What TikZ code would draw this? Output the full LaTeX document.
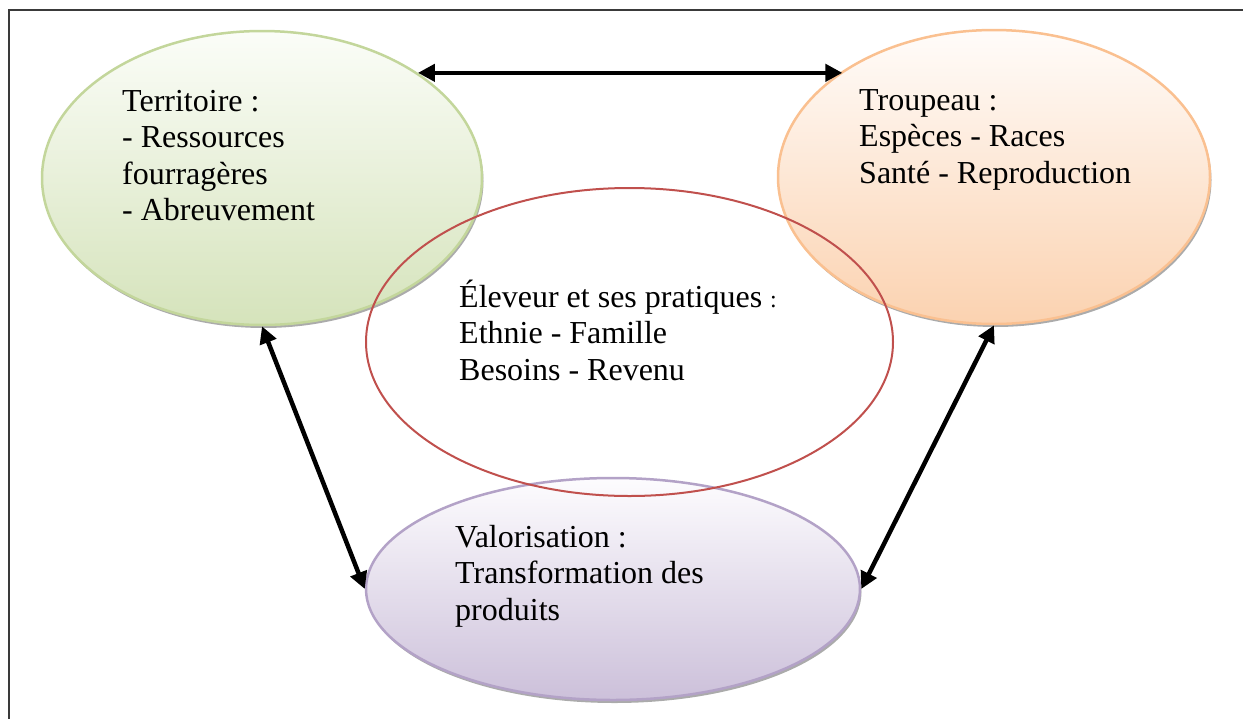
\documentclass[tikz,border=0pt]{standalone}
\usepackage{fontspec}
\setmainfont{Liberation Serif}
\usetikzlibrary{shapes.geometric,shadows,arrows.meta}
\definecolor{grLine}{HTML}{C3D69B}
\definecolor{grTop}{HTML}{FBFDF8}
\definecolor{grBot}{HTML}{D5E3BB}
\definecolor{orLine}{HTML}{FAC090}
\definecolor{orTop}{HTML}{FFFCFA}
\definecolor{orBot}{HTML}{FBD2B0}
\definecolor{puLine}{HTML}{B3A2C7}
\definecolor{puTop}{HTML}{FDFCFE}
\definecolor{puBot}{HTML}{CCC0DA}
\definecolor{rdLine}{HTML}{C0504D}
\definecolor{frameCol}{HTML}{3A3A3A}
\begin{document}
\begin{tikzpicture}[x=1pt,y=-1pt,
  blob/.style={ellipse, inner sep=0pt, line width=2.5pt,
    drop shadow={shadow xshift=1.5pt, shadow yshift=-3pt, fill=black!55, opacity=0.6}},
  txt/.style={anchor=north west, inner sep=0pt, align=left,
    font=\fontsize{32}{36.5}\selectfont},
  link/.style={line width=4.5pt, {Triangle[length=17pt,width=17pt]}-{Triangle[length=17pt,width=17pt]}}
]
\useasboundingbox (0,0) rectangle (1243,718);
\draw[frameCol, line width=2pt] (8.5,760) -- (8.5,10) -- (1260,10);

% ellipses
\node[blob, draw=grLine, top color=grTop, bottom color=grBot,
      minimum width=440pt, minimum height=294pt] (terr) at (262,178) {};
\node[blob, draw=orLine, top color=orTop, bottom color=orBot,
      minimum width=432pt, minimum height=294pt] (troup) at (994,177) {};
\node[blob, draw=puLine, top color=puTop, bottom color=puBot,
      minimum width=494pt, minimum height=222pt] (valo) at (613,589) {};
\node[ellipse, inner sep=0pt, draw=rdLine, line width=2pt,
      minimum width=527pt, minimum height=308pt] (elev) at (629.5,342) {};

% texts
\node[txt] (tterr) at (122,81) {\rule{0pt}{30pt}Territoire :\\- Ressources\\fourragères\\- Abreuvement};
\node[txt] (ttroup) at (859,80) {\rule{0pt}{30pt}Troupeau :\\Espèces - Races\\Santé - Reproduction};
\node[txt] (telev) at (459,277) {\rule{0pt}{30pt}Éleveur et ses pratiques {\fontsize{24}{36.5}\selectfont :}\\Ethnie - Famille\\Besoins - Revenu};
\node[txt] (tvalo) at (455,517) {\rule{0pt}{30pt}Valorisation :\\Transformation des\\produits};

% connectors
\draw[link] (terr.34.3) -- (terr.34.3 -| troup.145.8);
\draw[link] (terr.south) -- (valo.west);
\draw[link] (troup.south) -- (valo.east);
\end{tikzpicture}
\end{document}
